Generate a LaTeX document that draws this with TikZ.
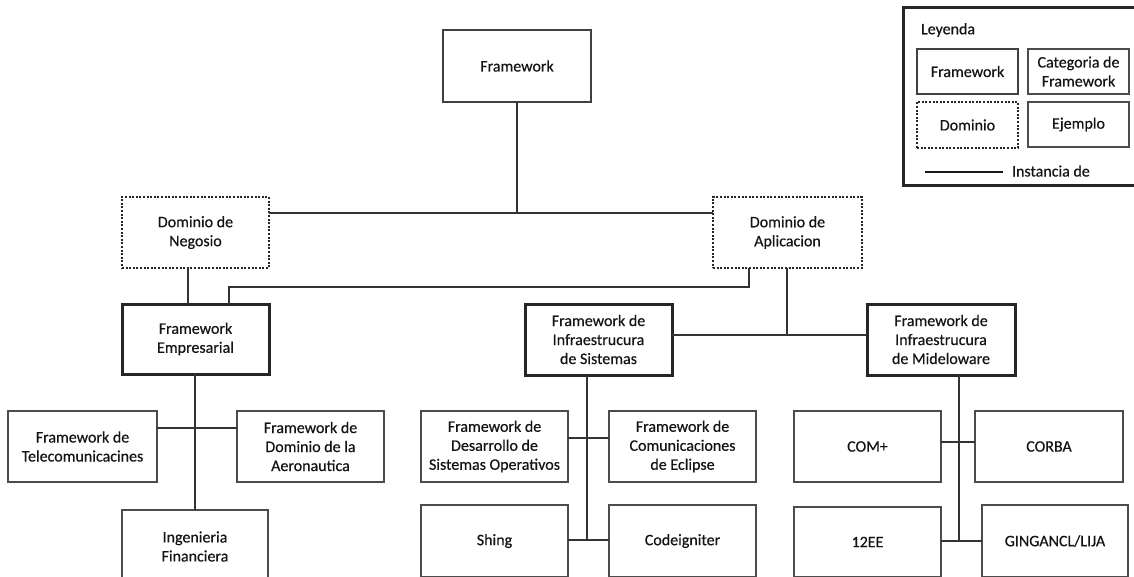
\documentclass[tikz,border=0pt]{standalone}
\usepackage{fontspec}
\setmainfont{Carlito}
\newfontfamily\lblfont{Carlito}[FakeBold=0.5]
\begin{document}
\begin{tikzpicture}[x=1pt,y=-1pt,
  every node/.style={font=\lblfont\fontsize{16}{19}\selectfont, text=black!92, align=center,
                     inner sep=0pt, outer sep=0pt},
  basebox/.style={draw=black!70, line width=1.6pt, minimum width=147pt, minimum height=71pt},
  exbox/.style={basebox},
  fwbox/.style={basebox, draw=black!75},
  catbox/.style={basebox, draw=black!85, line width=3pt},
  dombox/.style={basebox, draw=black!85, line width=2pt, dash pattern=on 2pt off 1.6pt},
  linkline/.style={draw=black!80, line width=2pt},
]
\useasboundingbox (0,0) rectangle (1134,576);

% root
\node[fwbox, minimum width=148pt, minimum height=72pt] (fw) at (517,66) {Framework};

% domains
\node[dombox] (neg) at (195.5,232.5) {Dominio de\\Negosio};
\node[dombox, minimum width=149pt] (apl) at (787.5,232.5) {Dominio de\\Aplicacion};

% framework categories
\node[catbox, minimum height=70pt] (emp) at (195.5,339) {Framework\\Empresarial};
\node[catbox] (sis) at (598.5,339.5) {Framework de\\Infraestrucura\\de Sistemas};
\node[catbox, minimum width=148pt] (mid) at (941,339.5) {Framework de\\Infraestrucura\\de Mideloware};

% examples
\node[exbox, minimum width=149pt] (tel) at (82.5,446.5) {Framework de\\Telecomunicacines};
\node[exbox] (aer) at (310.5,446.5) {Framework de\\Dominio de la\\Aeronautica};
\node[exbox, minimum width=146pt, minimum height=73pt] (ing) at (195,546.5) {Ingenieria\\Financiera};

\node[exbox] (des) at (494.5,446.5) {Framework de\\Desarrollo de\\Sistemas Operativos};
\node[exbox] (com) at (682.5,446.5) {Framework de\\Comunicaciones\\de Eclipse};
\node[exbox, minimum height=72pt] (shing) at (494.5,541) {Shing};
\node[exbox, minimum height=72pt] (code) at (682.5,541) {Codeigniter};

\node[exbox] (cplus) at (867.5,446.5) {COM+};
\node[exbox, minimum width=148pt] (corba) at (1049,446.5) {CORBA};
\node[exbox, minimum height=70pt] (ee) at (867.5,542) {12EE};
\node[exbox, minimum width=146pt, minimum height=72pt] (ging) at (1055,541) {GINGANCL/LIJA};

% bends of the connectors
\coordinate (bus) at (517,213);
\coordinate (k0) at (188,287);
\coordinate (k1) at (229,287);
\coordinate (k2) at (749,287);
\coordinate (k3) at (787,335);
\coordinate (e1) at (195,428);
\coordinate (s1) at (587,438);
\coordinate (s2) at (587,540);
\coordinate (m1) at (959,442);
\coordinate (m2) at (959,541);

% connectors
\draw[linkline] (fw.south) -- (bus);
\draw[linkline] (neg.east |- bus) -- (apl.west |- bus);
\draw[linkline] (neg.south -| k0) -- (emp.north -| k0);
\draw[linkline] (emp.north -| k1) -- (k1) -- (k2) -- (apl.south -| k2);
\draw[linkline] (apl.south -| k3) -- (k3);
\draw[linkline] (sis.east |- k3) -- (mid.west |- k3);

\draw[linkline] (emp.south -| e1) -- (ing.north -| e1);
\draw[linkline] (tel.east |- e1) -- (aer.west |- e1);

\draw[linkline] (sis.south -| s1) -- (s2);
\draw[linkline] (des.east |- s1) -- (com.west |- s1);
\draw[linkline] (shing.east |- s2) -- (code.west |- s2);

\draw[linkline] (mid.south -| m1) -- (m2);
\draw[linkline] (cplus.east |- m1) -- (corba.west |- m1);
\draw[linkline] (ee.east |- m2) -- (ging.west |- m2);

% legend
\node[draw=black!85, line width=3pt, minimum width=233pt, minimum height=178pt] (leg) at (1019.5,96) {};
\node[anchor=west] (legtitle) at (921,30) {Leyenda};
\node[fwbox, minimum width=101pt, minimum height=45pt] (lfw) at (967.5,71.5) {Framework};
\node[exbox, minimum width=101pt, minimum height=45pt] (lcat) at (1078.5,71.5) {Categoria de\\Framework};
\node[dombox, minimum width=101pt, minimum height=46pt] (ldom) at (967.5,125) {Dominio};
\node[exbox, minimum width=101pt, minimum height=45pt] (lex) at (1078.5,124.5) {Ejemplo};
\coordinate (la) at (925,172);
\coordinate (lb) at (1003,172);
\draw[linkline, line width=2.5pt, draw=black!90] (la) -- (lb);
\node[anchor=west] (linst) at (1012,171) {Instancia de};
\end{tikzpicture}
\end{document}
